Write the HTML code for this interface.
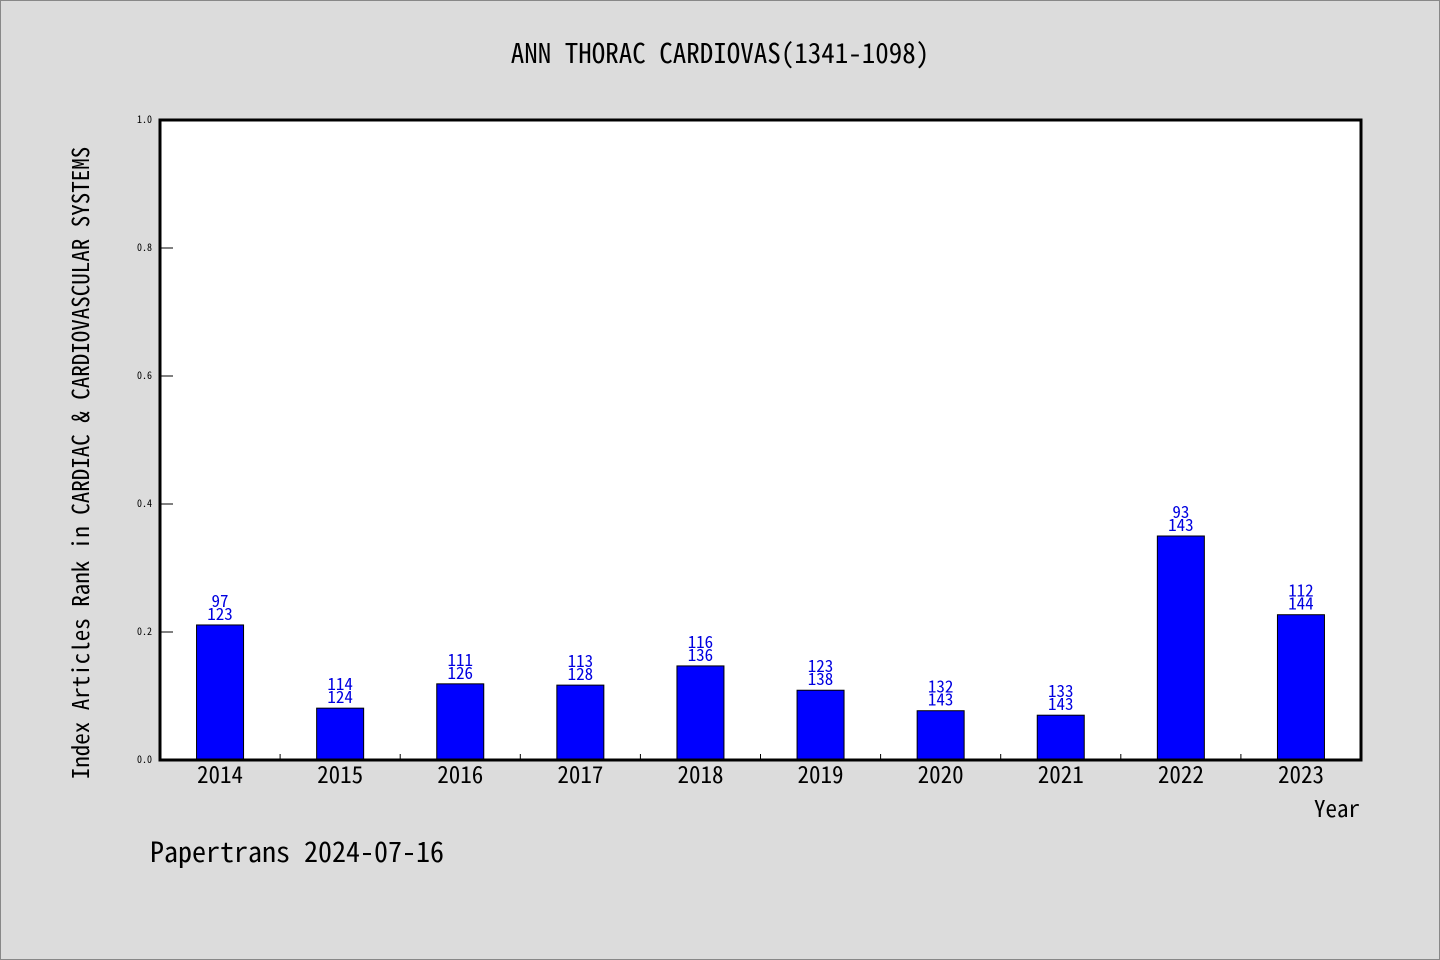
<!DOCTYPE html>
<html><head><meta charset="utf-8"><style>
html,body{margin:0;padding:0;background:#dcdcdc}
svg{display:block}
text{font-family:"WenQuanYi Zen Hei Mono","Noto Sans Mono CJK SC","Liberation Mono",monospace}
</style></head><body>
<svg id="chart" width="1440" height="960" xmlns="http://www.w3.org/2000/svg">
<rect x="0.5" y="0.5" width="1439" height="959" fill="#dcdcdc" stroke="#888"/>
<text x="720" y="63" font-size="27" text-anchor="middle" fill="#000">ANN THORAC CARDIOVAS(1341-1098)</text>
<rect x="160" y="120" width="1201" height="640" fill="#fff"/>
<g id="marks"></g>
<rect x="160" y="120" width="1201" height="640" fill="none" stroke="#000" stroke-width="3"/>
<text transform="translate(89,463) rotate(-90)" font-size="23" text-anchor="middle" fill="#000">Index Articles Rank in CARDIAC &amp; CARDIOVASCULAR SYSTEMS</text>
<text x="1360" y="817" font-size="23" text-anchor="end" fill="#000">Year</text>
<text x="150" y="862" font-size="28" fill="#000">Papertrans 2024-07-16</text>
</svg>
<script>
const categories=["2014","2015","2016","2017","2018","2019","2020","2021","2022","2023"];
const values=[0.211,0.081,0.119,0.117,0.147,0.109,0.077,0.070,0.350,0.227];
const ranks=["97","114","111","113","116","123","132","133","93","112"];
const totals=["123","124","126","128","136","138","143","143","143","144"];
const yTicks=[0,0.2,0.4,0.6,0.8,1.0];
const yTickLabels=["0.0","0.2","0.4","0.6","0.8","1.0"];
const NS="http://www.w3.org/2000/svg";
const X0=160,X1=1361,Y0=760,Y1=120;
const slot=(X1-X0)/categories.length;
const xc=i=>X0+slot*(i+0.5);
const y=v=>Y0-(v/1.0)*(Y0-Y1);
const g=document.getElementById('marks');
function mk(tag,attrs){const e=document.createElementNS(NS,tag);for(const k in attrs)e.setAttribute(k,attrs[k]);g.appendChild(e);return e;}
yTicks.forEach((t,i)=>{
  const l=mk('line',{x1:X0,x2:X0+13,y1:y(t),y2:y(t),stroke:'#000','stroke-width':1});
  
  
  const tx=mk('text',{x:X0-8,y:y(t)+3,'font-size':10,'text-anchor':'end',fill:'#000'});
  tx.textContent=yTickLabels[i];
  
  
});
categories.forEach((c,i)=>{
  if(i>0){const l=mk('line',{x1:X0+slot*i,x2:X0+slot*i,y1:Y0,y2:Y0-6,stroke:'#000','stroke-width':1});
    
    }
  const bw=47;
  const r=mk('rect',{x:xc(i)-bw/2,y:y(values[i]),width:bw,height:Y0-y(values[i]),fill:'#0000ff',stroke:'#000','stroke-width':1});
  
  
  const t1=mk('text',{x:xc(i),y:y(values[i])-18,'font-size':17,'text-anchor':'middle',fill:'#0000e0'});
  t1.textContent=ranks[i];
  
  
  const t2=mk('text',{x:xc(i),y:y(values[i])-5,'font-size':17,'text-anchor':'middle',fill:'#0000e0'});
  t2.textContent=totals[i];
  
  
  const xl=mk('text',{x:xc(i),y:783,'font-size':23,'text-anchor':'middle',fill:'#000'});
  xl.textContent=c;
  
  
});
</script>
</body></html>
